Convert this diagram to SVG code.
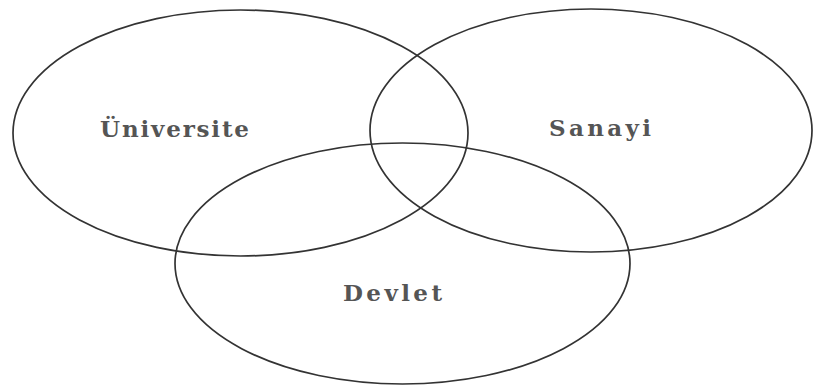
<svg xmlns="http://www.w3.org/2000/svg" width="816" height="390" viewBox="0 0 816 390">
<style>
.c{fill:none;stroke:#333333;stroke-width:1.7}
.t{font-family:"DejaVu Serif","Liberation Serif",serif;font-weight:bold;font-size:23px;fill:#555555}
</style>
<rect width="816" height="390" fill="#ffffff"/>
<g id="universite">
<ellipse class="c" cx="240.5" cy="133" rx="227.5" ry="123"/>
<text class="t" x="100" y="137" textLength="149" lengthAdjust="spacing">Üniversite</text>
</g>
<g id="sanayi">
<ellipse class="c" cx="591" cy="130.5" rx="221" ry="121.5"/>
<text class="t" x="549" y="136" textLength="102" lengthAdjust="spacing">Sanayi</text>
</g>
<g id="devlet">
<ellipse class="c" cx="402.5" cy="263.5" rx="227.5" ry="120.5"/>
<text class="t" x="343" y="301" textLength="99" lengthAdjust="spacing">Devlet</text>
</g>
<g id="connectors"/>
</svg>
